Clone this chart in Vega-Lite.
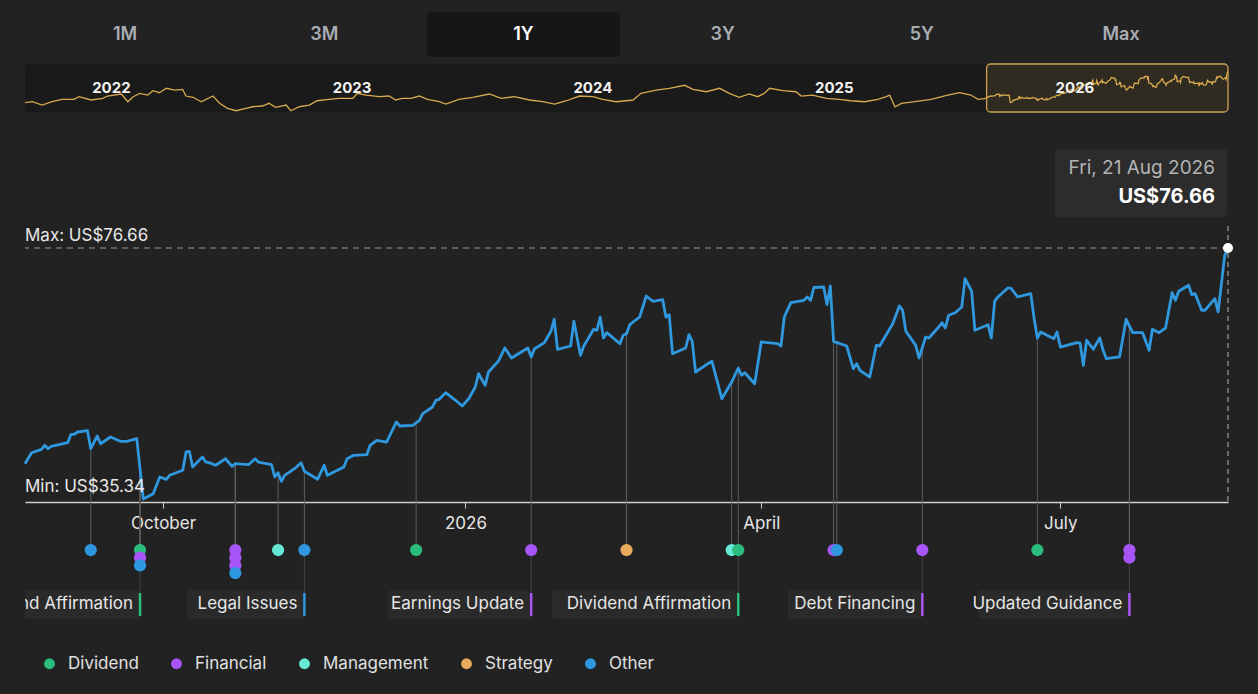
{
  "$schema": "https://vega.github.io/schema/vega-lite/v6.json",
  "background": "#222222",
  "padding": {"left": 22, "right": 30, "top": 12, "bottom": 0},
  "spacing": 7,
  "config": {
    "view": {"stroke": null, "fill": "#222222"},
    "font": "Inter",
    "text": {"font": "Inter"},
    "axis": {"labelFont": "Inter"},
    "legend": {"labelFont": "Inter"}
  },
  "datasets": {
    "ranges": [{"range": "1M"}, {"range": "3M"}, {"range": "1Y"}, {"range": "3Y"}, {"range": "5Y"}, {"range": "Max"}],
    "window": [{"start": "2025-08-20", "end": "2026-08-21"}],
    "years": [{"jan1": "2022-01-01"}, {"jan1": "2023-01-01"}, {"jan1": "2024-01-01"}, {"jan1": "2025-01-01"}, {"jan1": "2026-01-01"}],
    "history": [
      {"date": "2021-08-23", "price": 35.1}, {"date": "2021-09-03", "price": 36.4}, {"date": "2021-09-18", "price": 32.0},
      {"date": "2021-10-03", "price": 36.4}, {"date": "2021-10-18", "price": 39.6}, {"date": "2021-11-05", "price": 39.6},
      {"date": "2021-11-13", "price": 43.1}, {"date": "2021-12-01", "price": 38.7}, {"date": "2021-12-19", "price": 40.9},
      {"date": "2021-12-26", "price": 44.0}, {"date": "2022-01-16", "price": 46.7}, {"date": "2022-01-26", "price": 36.4},
      {"date": "2022-02-03", "price": 43.1}, {"date": "2022-02-13", "price": 47.6}, {"date": "2022-02-25", "price": 45.3},
      {"date": "2022-03-05", "price": 51.1}, {"date": "2022-03-15", "price": 48.4}, {"date": "2022-03-25", "price": 54.3},
      {"date": "2022-04-07", "price": 52.0}, {"date": "2022-04-19", "price": 52.9}, {"date": "2022-04-24", "price": 44.0},
      {"date": "2022-05-05", "price": 42.3}, {"date": "2022-05-17", "price": 36.4}, {"date": "2022-06-04", "price": 44.0},
      {"date": "2022-06-14", "price": 34.3}, {"date": "2022-06-26", "price": 27.6}, {"date": "2022-07-09", "price": 24.4},
      {"date": "2022-07-24", "price": 27.6}, {"date": "2022-08-03", "price": 29.7}, {"date": "2022-08-18", "price": 30.7},
      {"date": "2022-08-28", "price": 34.3}, {"date": "2022-09-07", "price": 28.9}, {"date": "2022-09-23", "price": 32.0},
      {"date": "2022-09-30", "price": 24.4}, {"date": "2022-10-13", "price": 29.7}, {"date": "2022-10-28", "price": 32.0},
      {"date": "2022-11-09", "price": 37.7}, {"date": "2022-11-27", "price": 39.6}, {"date": "2022-12-12", "price": 40.9},
      {"date": "2023-01-02", "price": 40.9}, {"date": "2023-01-09", "price": 47.6}, {"date": "2023-01-22", "price": 45.3},
      {"date": "2023-02-11", "price": 43.1}, {"date": "2023-02-26", "price": 44.0}, {"date": "2023-03-08", "price": 38.7},
      {"date": "2023-03-18", "price": 40.9}, {"date": "2023-03-31", "price": 40.9}, {"date": "2023-04-13", "price": 44.0},
      {"date": "2023-04-25", "price": 39.6}, {"date": "2023-05-13", "price": 36.4}, {"date": "2023-05-23", "price": 33.3},
      {"date": "2023-06-12", "price": 39.6}, {"date": "2023-07-03", "price": 42.3}, {"date": "2023-07-28", "price": 46.7},
      {"date": "2023-08-15", "price": 40.9}, {"date": "2023-09-04", "price": 43.1}, {"date": "2023-09-27", "price": 38.7},
      {"date": "2023-10-17", "price": 36.4}, {"date": "2023-11-04", "price": 33.3}, {"date": "2023-11-22", "price": 37.7},
      {"date": "2023-12-12", "price": 44.0}, {"date": "2024-01-01", "price": 43.1}, {"date": "2024-01-16", "price": 39.6},
      {"date": "2024-02-05", "price": 36.4}, {"date": "2024-03-02", "price": 38.7}, {"date": "2024-03-14", "price": 47.6},
      {"date": "2024-04-06", "price": 52.0}, {"date": "2024-04-26", "price": 54.3}, {"date": "2024-05-19", "price": 58.3},
      {"date": "2024-06-01", "price": 52.9}, {"date": "2024-06-21", "price": 49.7}, {"date": "2024-07-11", "price": 54.3},
      {"date": "2024-07-26", "price": 47.6}, {"date": "2024-08-10", "price": 42.3}, {"date": "2024-08-25", "price": 46.7},
      {"date": "2024-09-07", "price": 43.1}, {"date": "2024-09-17", "price": 47.6}, {"date": "2024-09-25", "price": 54.3},
      {"date": "2024-10-15", "price": 51.1}, {"date": "2024-11-04", "price": 49.7}, {"date": "2024-11-12", "price": 44.0},
      {"date": "2024-11-29", "price": 45.3}, {"date": "2024-12-20", "price": 40.9}, {"date": "2025-01-09", "price": 39.6},
      {"date": "2025-01-26", "price": 37.7}, {"date": "2025-02-16", "price": 36.4}, {"date": "2025-03-08", "price": 39.6},
      {"date": "2025-03-21", "price": 43.1}, {"date": "2025-03-26", "price": 45.3}, {"date": "2025-04-03", "price": 29.7},
      {"date": "2025-04-13", "price": 34.3}, {"date": "2025-05-03", "price": 36.4}, {"date": "2025-05-28", "price": 39.6},
      {"date": "2025-06-22", "price": 45.3}, {"date": "2025-07-10", "price": 48.4}, {"date": "2025-07-27", "price": 45.3},
      {"date": "2025-08-07", "price": 39.6}, {"date": "2025-08-19", "price": 41.0}
    ],
    "prices": [
      {"date": "2025-08-20", "price": 41.15}, {"date": "2025-08-22", "price": 42.96}, {"date": "2025-08-25", "price": 43.52},
      {"date": "2025-08-26", "price": 44.18}, {"date": "2025-08-27", "price": 43.62}, {"date": "2025-08-28", "price": 44.02},
      {"date": "2025-09-02", "price": 44.61}, {"date": "2025-09-03", "price": 45.99}, {"date": "2025-09-04", "price": 46.0},
      {"date": "2025-09-05", "price": 46.37}, {"date": "2025-09-08", "price": 46.58}, {"date": "2025-09-09", "price": 43.62},
      {"date": "2025-09-11", "price": 45.71}, {"date": "2025-09-12", "price": 44.44}, {"date": "2025-09-15", "price": 45.55},
      {"date": "2025-09-18", "price": 44.84}, {"date": "2025-09-20", "price": 44.84}, {"date": "2025-09-23", "price": 45.27},
      {"date": "2025-09-25", "price": 35.34}, {"date": "2025-09-28", "price": 36.21}, {"date": "2025-09-30", "price": 38.96},
      {"date": "2025-10-02", "price": 38.58}, {"date": "2025-10-03", "price": 39.24}, {"date": "2025-10-07", "price": 40.07},
      {"date": "2025-10-08", "price": 43.08}, {"date": "2025-10-09", "price": 43.19}, {"date": "2025-10-10", "price": 40.61},
      {"date": "2025-10-13", "price": 42.25}, {"date": "2025-10-14", "price": 41.43}, {"date": "2025-10-15", "price": 41.32},
      {"date": "2025-10-17", "price": 40.89}, {"date": "2025-10-20", "price": 41.97}, {"date": "2025-10-22", "price": 40.72},
      {"date": "2025-10-23", "price": 41.15}, {"date": "2025-10-27", "price": 40.99}, {"date": "2025-10-29", "price": 41.97},
      {"date": "2025-10-30", "price": 41.43}, {"date": "2025-11-03", "price": 40.99}, {"date": "2025-11-04", "price": 38.96},
      {"date": "2025-11-05", "price": 39.67}, {"date": "2025-11-06", "price": 38.25}, {"date": "2025-11-07", "price": 39.24},
      {"date": "2025-11-10", "price": 40.33}, {"date": "2025-11-12", "price": 41.32}, {"date": "2025-11-13", "price": 39.9},
      {"date": "2025-11-17", "price": 38.58}, {"date": "2025-11-19", "price": 40.89}, {"date": "2025-11-20", "price": 39.24},
      {"date": "2025-11-25", "price": 40.61}, {"date": "2025-11-26", "price": 41.97}, {"date": "2025-11-28", "price": 42.53},
      {"date": "2025-12-02", "price": 42.63}, {"date": "2025-12-03", "price": 44.18}, {"date": "2025-12-05", "price": 45.0},
      {"date": "2025-12-08", "price": 44.72}, {"date": "2025-12-11", "price": 48.02}, {"date": "2025-12-12", "price": 47.36},
      {"date": "2025-12-16", "price": 47.47}, {"date": "2025-12-18", "price": 48.3}, {"date": "2025-12-19", "price": 49.38},
      {"date": "2025-12-22", "price": 50.49}, {"date": "2025-12-23", "price": 51.59}, {"date": "2025-12-24", "price": 51.75},
      {"date": "2025-12-26", "price": 52.84}, {"date": "2025-12-29", "price": 51.59}, {"date": "2025-12-31", "price": 50.65},
      {"date": "2026-01-02", "price": 51.85}, {"date": "2026-01-04", "price": 53.78}, {"date": "2026-01-05", "price": 55.97},
      {"date": "2026-01-07", "price": 54.06}, {"date": "2026-01-08", "price": 56.25}, {"date": "2026-01-11", "price": 58.01},
      {"date": "2026-01-13", "price": 60.2}, {"date": "2026-01-15", "price": 58.55}, {"date": "2026-01-20", "price": 60.2},
      {"date": "2026-01-21", "price": 58.72}, {"date": "2026-01-22", "price": 60.08}, {"date": "2026-01-25", "price": 61.07},
      {"date": "2026-01-27", "price": 62.95}, {"date": "2026-01-28", "price": 64.93}, {"date": "2026-01-29", "price": 59.99},
      {"date": "2026-02-02", "price": 60.53}, {"date": "2026-02-03", "price": 64.6}, {"date": "2026-02-05", "price": 59.0},
      {"date": "2026-02-06", "price": 60.53}, {"date": "2026-02-09", "price": 63.28}, {"date": "2026-02-10", "price": 63.11},
      {"date": "2026-02-11", "price": 65.3}, {"date": "2026-02-12", "price": 61.85}, {"date": "2026-02-13", "price": 62.72},
      {"date": "2026-02-17", "price": 60.91}, {"date": "2026-02-18", "price": 62.29}, {"date": "2026-02-19", "price": 62.55},
      {"date": "2026-02-20", "price": 64.04}, {"date": "2026-02-23", "price": 65.3}, {"date": "2026-02-25", "price": 68.76},
      {"date": "2026-02-27", "price": 67.89}, {"date": "2026-03-02", "price": 68.15}, {"date": "2026-03-03", "price": 65.3},
      {"date": "2026-03-04", "price": 65.68}, {"date": "2026-03-05", "price": 59.26}, {"date": "2026-03-09", "price": 60.2},
      {"date": "2026-03-10", "price": 62.39}, {"date": "2026-03-11", "price": 61.3}, {"date": "2026-03-12", "price": 56.25},
      {"date": "2026-03-15", "price": 57.35}, {"date": "2026-03-17", "price": 58.01}, {"date": "2026-03-20", "price": 51.85},
      {"date": "2026-03-23", "price": 54.6}, {"date": "2026-03-25", "price": 56.91}, {"date": "2026-03-26", "price": 55.71},
      {"date": "2026-03-27", "price": 56.13}, {"date": "2026-03-30", "price": 54.32}, {"date": "2026-04-01", "price": 61.19},
      {"date": "2026-04-06", "price": 60.91}, {"date": "2026-04-07", "price": 60.53}, {"date": "2026-04-08", "price": 65.3},
      {"date": "2026-04-10", "price": 67.66}, {"date": "2026-04-14", "price": 68.05}, {"date": "2026-04-15", "price": 68.6},
      {"date": "2026-04-16", "price": 68.05}, {"date": "2026-04-17", "price": 70.16}, {"date": "2026-04-20", "price": 70.24},
      {"date": "2026-04-21", "price": 67.33}, {"date": "2026-04-22", "price": 70.41}, {"date": "2026-04-23", "price": 61.3},
      {"date": "2026-04-27", "price": 60.53}, {"date": "2026-04-29", "price": 56.79}, {"date": "2026-04-30", "price": 57.62},
      {"date": "2026-05-01", "price": 56.53}, {"date": "2026-05-04", "price": 55.43}, {"date": "2026-05-06", "price": 60.64},
      {"date": "2026-05-07", "price": 60.53}, {"date": "2026-05-11", "price": 64.2}, {"date": "2026-05-13", "price": 67.12},
      {"date": "2026-05-14", "price": 66.41}, {"date": "2026-05-15", "price": 62.95}, {"date": "2026-05-18", "price": 60.64},
      {"date": "2026-05-19", "price": 58.55}, {"date": "2026-05-21", "price": 62.01}, {"date": "2026-05-22", "price": 61.85},
      {"date": "2026-05-25", "price": 63.66}, {"date": "2026-05-26", "price": 64.37}, {"date": "2026-05-27", "price": 63.49},
      {"date": "2026-05-28", "price": 65.58}, {"date": "2026-05-30", "price": 66.01}, {"date": "2026-06-01", "price": 66.95},
      {"date": "2026-06-02", "price": 71.61}, {"date": "2026-06-04", "price": 69.54}, {"date": "2026-06-05", "price": 63.11},
      {"date": "2026-06-09", "price": 64.04}, {"date": "2026-06-10", "price": 61.85}, {"date": "2026-06-11", "price": 67.89},
      {"date": "2026-06-12", "price": 68.6}, {"date": "2026-06-15", "price": 70.08}, {"date": "2026-06-16", "price": 70.0},
      {"date": "2026-06-18", "price": 68.6}, {"date": "2026-06-22", "price": 69.14}, {"date": "2026-06-23", "price": 65.14},
      {"date": "2026-06-24", "price": 61.85}, {"date": "2026-06-25", "price": 62.83}, {"date": "2026-06-29", "price": 61.73},
      {"date": "2026-06-30", "price": 62.83}, {"date": "2026-07-01", "price": 60.36}, {"date": "2026-07-06", "price": 61.07},
      {"date": "2026-07-07", "price": 61.0}, {"date": "2026-07-08", "price": 57.35}, {"date": "2026-07-09", "price": 61.47},
      {"date": "2026-07-11", "price": 59.99}, {"date": "2026-07-13", "price": 61.85}, {"date": "2026-07-14", "price": 59.82},
      {"date": "2026-07-15", "price": 58.44}, {"date": "2026-07-19", "price": 58.72}, {"date": "2026-07-21", "price": 64.93},
      {"date": "2026-07-23", "price": 62.72}, {"date": "2026-07-26", "price": 62.72}, {"date": "2026-07-28", "price": 59.82},
      {"date": "2026-07-29", "price": 63.28}, {"date": "2026-07-31", "price": 62.72}, {"date": "2026-08-02", "price": 63.49},
      {"date": "2026-08-04", "price": 69.3}, {"date": "2026-08-05", "price": 68.05}, {"date": "2026-08-06", "price": 69.54},
      {"date": "2026-08-09", "price": 70.52}, {"date": "2026-08-10", "price": 68.98}, {"date": "2026-08-11", "price": 69.14},
      {"date": "2026-08-13", "price": 66.41}, {"date": "2026-08-14", "price": 66.41}, {"date": "2026-08-17", "price": 68.32},
      {"date": "2026-08-18", "price": 66.13}, {"date": "2026-08-19", "price": 70.79}, {"date": "2026-08-20", "price": 75.46},
      {"date": "2026-08-21", "price": 76.66}
    ],
    "events": [
      {"date": "2025-09-09", "category": "Other", "price": 43.62},
      {"date": "2025-09-24", "category": "Dividend", "price": 40.3, "title": "Dividend Affirmation"},
      {"date": "2025-09-24", "category": "Financial", "price": 40.3},
      {"date": "2025-09-24", "category": "Other", "price": 40.3},
      {"date": "2025-10-23", "category": "Financial", "price": 41.15},
      {"date": "2025-10-23", "category": "Financial", "price": 41.15},
      {"date": "2025-10-23", "category": "Financial", "price": 41.15},
      {"date": "2025-10-23", "category": "Other", "price": 41.15},
      {"date": "2025-11-05", "category": "Management", "price": 39.67},
      {"date": "2025-11-13", "category": "Other", "price": 39.9, "title": "Legal Issues"},
      {"date": "2025-12-17", "category": "Dividend", "price": 47.89},
      {"date": "2026-01-21", "category": "Financial", "price": 58.72, "title": "Earnings Update"},
      {"date": "2026-02-19", "category": "Strategy", "price": 62.55},
      {"date": "2026-03-23", "category": "Management", "price": 54.6},
      {"date": "2026-03-25", "category": "Dividend", "price": 56.91, "title": "Dividend Affirmation"},
      {"date": "2026-04-23", "category": "Financial", "price": 61.3},
      {"date": "2026-04-24", "category": "Other", "price": 61.11},
      {"date": "2026-05-20", "category": "Financial", "price": 60.28, "title": "Debt Financing"},
      {"date": "2026-06-24", "category": "Dividend", "price": 61.85},
      {"date": "2026-07-22", "category": "Financial", "price": 63.8, "title": "Updated Guidance"},
      {"date": "2026-07-22", "category": "Financial", "price": 63.8}
    ]
  },
  "vconcat": [
    {
      "spacing": 7,
      "bounds": "flush",
      "vconcat": [
        {
          "width": 1203,
          "height": 45,
          "data": {"name": "ranges"},
          "encoding": {
            "x": {
              "field": "range", "type": "nominal", "axis": null,
              "scale": {"domain": ["1M", "3M", "1Y", "3Y", "5Y", "Max"], "paddingInner": 0.03, "paddingOuter": 0.0345, "align": 0.25}
            }
          },
          "layer": [
            {
              "transform": [{"filter": "datum.range == '1Y'"}],
              "mark": {"type": "bar", "color": "#161616", "cornerRadius": 5}
            },
            {
              "mark": {"type": "text", "fontSize": 18, "fontWeight": 600},
              "encoding": {
                "text": {"field": "range"},
                "color": {"condition": {"test": "datum.range == '1Y'", "value": "#ffffff"}, "value": "#a9aeb4"}
              }
            }
          ]
        },
        {
          "width": 1203,
          "height": 48,
          "view": {"fill": "#1a1a1a", "cornerRadius": 2},
          "layer": [
            {
              "data": {"name": "window"},
              "mark": {"type": "rect", "fill": "#d9ab55", "fillOpacity": 0.12, "stroke": "#cfa253", "strokeWidth": 1.3, "cornerRadius": 4},
              "encoding": {
                "x": {"field": "start", "type": "temporal", "axis": null,
                      "scale": {"type": "utc", "domain": [{"year": 2021, "month": 8, "date": 23, "utc": true}, {"year": 2026, "month": 8, "date": 21, "utc": true}]}},
                "x2": {"field": "end"}
              }
            },
            {
              "data": {"name": "history"},
              "mark": {"type": "line", "color": "#d8a94e", "strokeWidth": 1.3},
              "encoding": {
                "x": {"field": "date", "type": "temporal", "axis": null,
                      "scale": {"type": "utc", "domain": [{"year": 2021, "month": 8, "date": 23, "utc": true}, {"year": 2026, "month": 8, "date": 21, "utc": true}]}},
                "y": {"field": "price", "type": "quantitative", "axis": null, "scale": {"domain": [22.7, 86.7], "nice": false, "zero": false}}
              }
            },
            {
              "data": {"name": "prices"},
              "mark": {"type": "line", "color": "#d8a94e", "strokeWidth": 1.3},
              "encoding": {
                "x": {"field": "date", "type": "temporal", "axis": null,
                      "scale": {"type": "utc", "domain": [{"year": 2021, "month": 8, "date": 23, "utc": true}, {"year": 2026, "month": 8, "date": 21, "utc": true}]}},
                "y": {"field": "price", "type": "quantitative", "axis": null, "scale": {"domain": [22.7, 86.7], "nice": false, "zero": false}}
              }
            },
            {
              "data": {"name": "years"},
              "mark": {"type": "text", "fontSize": 15, "fontWeight": "bold", "color": "#f2f2f2"},
              "encoding": {
                "x": {"field": "jan1", "type": "temporal", "axis": null,
                      "scale": {"type": "utc", "domain": [{"year": 2021, "month": 8, "date": 23, "utc": true}, {"year": 2026, "month": 8, "date": 21, "utc": true}]}},
                "text": {"field": "jan1", "type": "temporal", "timeUnit": "utcyear"}
              }
            }
          ]
        }
      ]
    },
    {
      "spacing": 0,
      "bounds": "flush",
      "vconcat": [
        {
          "width": 1203,
          "height": 381,
          "layer": [
            {
              "data": {"name": "events"},
              "mark": {"type": "rule", "color": "#5e5e5e", "strokeWidth": 1},
              "encoding": {
                "x": {"field": "date", "type": "temporal", "title": null,
                      "scale": {"type": "utc", "domain": [{"year": 2025, "month": 8, "date": 20, "utc": true}, {"year": 2026, "month": 8, "date": 21, "utc": true}]}},
                "y": {"field": "price", "type": "quantitative", "axis": null, "scale": {"domain": [34.846, 97.57], "nice": false, "zero": false}},
                "y2": {"datum": 34.846}
              }
            },
            {
              "data": {"name": "prices"},
              "transform": [{"aggregate": [{"op": "max", "field": "price", "as": "hi"}]}],
              "mark": {"type": "rule", "color": "#9a9a9a", "strokeDash": [6, 5], "strokeWidth": 1.2},
              "encoding": {
                "y": {"field": "hi", "type": "quantitative", "axis": null, "scale": {"domain": [34.846, 97.57], "nice": false, "zero": false}}
              }
            },
            {
              "data": {"name": "prices"},
              "mark": {"type": "line", "color": "#2f98df", "strokeWidth": 2.8, "strokeJoin": "round"},
              "encoding": {
                "x": {"field": "date", "type": "temporal", "title": null,
                      "scale": {"type": "utc", "domain": [{"year": 2025, "month": 8, "date": 20, "utc": true}, {"year": 2026, "month": 8, "date": 21, "utc": true}]},
                      "axis": {"tickCount": {"interval": "month", "step": 3}, "labelFontSize": 17, "labelColor": "#e6e6e6",
                               "domainColor": "#d0d0d0", "domainWidth": 1.5, "tickColor": "#d0d0d0", "tickSize": 6,
                               "labelPadding": 7, "grid": false, "labelFlush": false, "title": null}},
                "y": {"field": "price", "type": "quantitative", "axis": null, "scale": {"domain": [34.846, 97.57], "nice": false, "zero": false}}
              }
            },
            {
              "data": {"name": "prices"},
              "transform": [
                {"window": [{"op": "row_number", "as": "rn"}], "sort": [{"field": "date", "order": "descending"}]},
                {"filter": "datum.rn == 1"},
                {"calculate": "utcFormat(toDate(datum.date), '%a, %d %b %Y')", "as": "dateLabel"},
                {"calculate": "'US$' + format(datum.price, '.2f')", "as": "priceLabel"}
              ],
              "encoding": {
                "x": {"field": "date", "type": "temporal", "title": null,
                      "scale": {"type": "utc", "domain": [{"year": 2025, "month": 8, "date": 20, "utc": true}, {"year": 2026, "month": 8, "date": 21, "utc": true}]}},
                "y": {"field": "price", "type": "quantitative", "axis": null, "scale": {"domain": [34.846, 97.57], "nice": false, "zero": false}}
              },
              "layer": [
                {
                  "mark": {"type": "rule", "color": "#9a9a9a", "strokeDash": [5, 4], "strokeWidth": 1.2, "yOffset": -22},
                  "encoding": {"y2": {"datum": 34.846}}
                },
                {
                  "mark": {"type": "rect", "fill": "#2c2c2c", "cornerRadius": 4, "xOffset": -173, "x2Offset": -1, "yOffset": -99, "y2Offset": -31},
                  "encoding": {"x2": {"field": "date"}, "y2": {"field": "price"}}
                },
                {
                  "mark": {"type": "point", "filled": true, "color": "#ffffff", "size": 100, "opacity": 1}
                },
                {
                  "mark": {"type": "text", "align": "right", "dx": -13, "dy": -80, "fontSize": 19, "color": "#b3b3b3"},
                  "encoding": {"text": {"field": "dateLabel"}}
                },
                {
                  "mark": {"type": "text", "align": "right", "dx": -13, "dy": -51, "fontSize": 20, "fontWeight": "bold", "color": "#ffffff"},
                  "encoding": {"text": {"field": "priceLabel"}}
                }
              ]
            },
            {
              "data": {"name": "prices"},
              "transform": [
                {"aggregate": [{"op": "max", "field": "price", "as": "Max"}, {"op": "min", "field": "price", "as": "Min"}]},
                {"fold": ["Max", "Min"], "as": ["kind", "value"]},
                {"calculate": "datum.kind + ': US$' + format(datum.value, '.2f')", "as": "lbl"}
              ],
              "mark": {"type": "text", "align": "left", "baseline": "alphabetic", "dy": -7, "fontSize": 17, "color": "#e8e8e8"},
              "encoding": {
                "x": {"datum": {"year": 2025, "month": 8, "date": 20, "utc": true}, "type": "temporal",
                      "scale": {"type": "utc", "domain": [{"year": 2025, "month": 8, "date": 20, "utc": true}, {"year": 2026, "month": 8, "date": 21, "utc": true}]}},
                "y": {"field": "value", "type": "quantitative", "axis": null, "scale": {"domain": [34.846, 97.57], "nice": false, "zero": false}},
                "text": {"field": "lbl"}
              }
            }
          ]
        },
        {
          "width": 1203,
          "height": 194,
          "view": {"fill": "#222222", "fillOpacity": 0},
          "data": {"name": "events"},
          "transform": [{"window": [{"op": "row_number", "as": "slot"}], "groupby": ["date"]}],
          "encoding": {
            "x": {"field": "date", "type": "temporal", "title": null, "axis": null,
                  "scale": {"type": "utc", "domain": [{"year": 2025, "month": 8, "date": 20, "utc": true}, {"year": 2026, "month": 8, "date": 21, "utc": true}]}}
          },
          "layer": [
            {
              "mark": {"type": "rule", "color": "#5e5e5e", "strokeWidth": 1},
              "encoding": {
                "y": {"field": "slot", "type": "quantitative", "axis": null, "scale": {"domain": [-5.234, 19.96], "nice": false, "zero": false, "reverse": true}},
                "y2": {"datum": -5.234}
              }
            },
            {
              "transform": [{"filter": "datum.title"}],
              "mark": {"type": "rule", "color": "#444444", "strokeWidth": 1},
              "encoding": {
                "y": {"field": "slot", "type": "quantitative", "axis": null, "scale": {"domain": [-5.234, 19.96], "nice": false, "zero": false, "reverse": true}},
                "y2": {"datum": 6.58}
              }
            },
            {
              "mark": {"type": "circle", "size": 150, "opacity": 1},
              "encoding": {
                "y": {"field": "slot", "type": "quantitative", "axis": null, "scale": {"domain": [-5.234, 19.96], "nice": false, "zero": false, "reverse": true}},
                "color": {
                  "field": "category", "type": "nominal",
                  "scale": {"domain": ["Dividend", "Financial", "Management", "Strategy", "Other"], "range": ["#2bbd7e", "#a855f7", "#67e8d4", "#e8aa5c", "#2f97e0"]},
                  "legend": {"orient": "none", "legendX": 16, "legendY": 643, "direction": "horizontal", "title": null,
                             "symbolType": "circle", "symbolSize": 120, "symbolStrokeWidth": 0, "labelFontSize": 17,
                             "labelColor": "#e0e0e0", "labelOffset": 10, "columnPadding": 29}
                }
              }
            },
            {
              "transform": [
                {"filter": "datum.title"},
                {"calculate": "toDate(datum.date) - (length(datum.title) * 8.6 + 14) * 86400000 / 3.287", "as": "boxStart"}
              ],
              "mark": {"type": "rect", "fill": "#2a2a2a", "cornerRadius": 3, "clip": true},
              "encoding": {
                "x": {"field": "boxStart", "type": "temporal", "title": null, "axis": null,
                      "scale": {"type": "utc", "domain": [{"year": 2025, "month": 8, "date": 20, "utc": true}, {"year": 2026, "month": 8, "date": 21, "utc": true}]}},
                "x2": {"field": "date"},
                "y": {"datum": 6.2, "type": "quantitative", "axis": null, "scale": {"domain": [-5.234, 19.96], "nice": false, "zero": false, "reverse": true}},
                "y2": {"datum": 9.96}
              }
            },
            {
              "transform": [{"filter": "datum.title"}],
              "mark": {"type": "rule", "strokeWidth": 2.5},
              "encoding": {
                "y": {"datum": 6.58, "type": "quantitative", "axis": null, "scale": {"domain": [-5.234, 19.96], "nice": false, "zero": false, "reverse": true}},
                "y2": {"datum": 9.57},
                "stroke": {
                  "field": "category", "type": "nominal", "legend": null,
                  "scale": {"domain": ["Dividend", "Financial", "Management", "Strategy", "Other"], "range": ["#2bbd7e", "#a855f7", "#67e8d4", "#e8aa5c", "#2f97e0"]}
                }
              }
            },
            {
              "transform": [{"filter": "datum.title"}],
              "mark": {"type": "text", "align": "right", "dx": -7, "fontSize": 17, "color": "#e6e6e6", "clip": true},
              "encoding": {
                "y": {"datum": 8.0, "type": "quantitative", "axis": null, "scale": {"domain": [-5.234, 19.96], "nice": false, "zero": false, "reverse": true}},
                "text": {"field": "title"}
              }
            }
          ]
        }
      ]
    }
  ]
}
